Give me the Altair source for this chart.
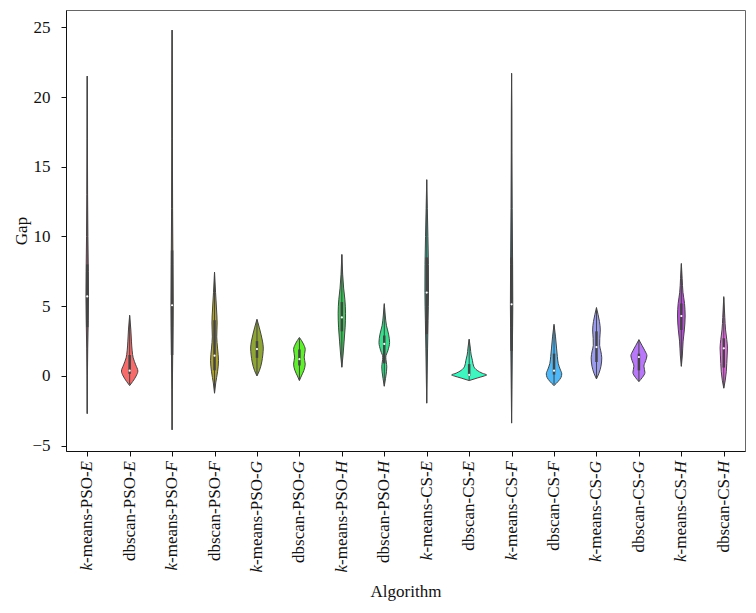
import altair as alt
import pandas as pd

algorithms = [
    "k-means-PSO-E", "dbscan-PSO-E", "k-means-PSO-F", "dbscan-PSO-F",
    "k-means-PSO-G", "dbscan-PSO-G", "k-means-PSO-H", "dbscan-PSO-H",
    "k-means-CS-E", "dbscan-CS-E", "k-means-CS-F", "dbscan-CS-F",
    "k-means-CS-G", "dbscan-CS-G", "k-means-CS-H", "dbscan-CS-H",
]

colors = [
    "#f2769a", "#f86b6b", "#d98c2c", "#ada12c",
    "#8ea534", "#5ef02a", "#3ec75a", "#35e08a",
    "#30c9a8", "#3ff5c0", "#3cc4e4", "#4fb8f8",
    "#9b9bf0", "#b978fa", "#b64fd6", "#e26ce0",
]

# violin outline knots: Gap values and half-widths (percent of a category band)
profile_y = [
    [-2.7, 0, 2, 4, 5.7, 7.5, 10, 13, 17, 21.5],
    [-0.69, -0.4, 0, 0.35, 0.8, 1.3, 1.8, 2.5, 3.3, 4.36],
    [-3.86, -1, 2, 5, 8, 12, 17, 21, 24.8],
    [-1.24, -0.5, 0.3, 1.1, 2, 2.8, 3.8, 4.8, 6, 7.45],
    [0, 0.4, 1.0, 1.5, 2.0, 2.5, 3.0, 3.5, 4.07],
    [-0.33, 0, 0.4, 0.85, 1.35, 1.9, 2.3, 2.76],
    [0.62, 1.5, 2.5, 3.5, 4.5, 5.5, 6.3, 7.3, 8.71],
    [-0.74, -0.2, 0.3, 0.65, 1.0, 1.35, 1.8, 2.4, 3.0, 3.6, 4.3, 5.19],
    [-1.95, 0, 2, 4, 6, 8, 10, 12, 14.07],
    [-0.33, -0.15, 0.0, 0.07, 0.2, 0.4, 0.7, 1.1, 1.5, 2.0, 2.64],
    [-3.38, -1, 2, 5, 8, 12, 16, 19, 21.7],
    [-0.69, -0.4, -0.1, 0.15, 0.5, 0.9, 1.4, 2.0, 2.8, 3.71],
    [-0.21, 0.2, 0.7, 1.3, 1.8, 2.2, 2.7, 3.3, 3.9, 4.4, 4.9],
    [-0.4, -0.1, 0.25, 0.7, 1.1, 1.45, 1.8, 2.2, 2.6],
    [0.69, 1.5, 2.5, 3.3, 4.3, 5.2, 6.0, 7.0, 8.07],
    [-0.88, -0.3, 0.3, 0.9, 1.5, 2.0, 2.6, 3.3, 4.2, 5.69],
]
profile_w = [
    [0, 0.5, 1.2, 2.4, 3.0, 2.6, 1.6, 0.9, 0.5, 0],
    [0, 7.1, 15.3, 19.3, 14.2, 8.3, 5.9, 4.2, 2.8, 0],
    [0, 0.6, 1.6, 2.6, 2.0, 1.2, 0.7, 0.6, 0],
    [0, 2.8, 7.1, 9.4, 7.1, 5.2, 6.1, 4.7, 2.4, 0],
    [0, 5.9, 11.3, 13.7, 14.9, 13.0, 9.4, 5.2, 0],
    [0, 4.7, 10.6, 13.7, 11.3, 13.7, 9.4, 0],
    [0, 2.8, 5.4, 7.8, 8.7, 7.1, 4.2, 1.9, 0],
    [0, 2.8, 5.2, 5.9, 4.7, 3.5, 8.3, 12.5, 10.1, 5.2, 2.4, 0],
    [0, 1.0, 2.0, 3.2, 4.2, 4.0, 2.8, 1.4, 0],
    [0, 18.9, 35.4, 41.3, 30.7, 18.9, 10.6, 7.8, 4.7, 2.8, 0],
    [0, 0.8, 1.8, 2.8, 2.4, 1.4, 0.8, 0.6, 0],
    [0, 9.4, 16.5, 18.2, 14.2, 9.9, 7.8, 5.9, 3.5, 0],
    [0, 5.9, 10.6, 12.5, 10.1, 7.5, 7.8, 9.0, 7.1, 3.8, 0],
    [0, 8.3, 14.2, 11.8, 16.0, 18.9, 14.2, 7.1, 0],
    [0, 2.4, 4.2, 7.1, 9.0, 7.5, 3.8, 1.9, 0],
    [0, 3.5, 5.9, 7.1, 8.0, 8.7, 7.1, 4.2, 2.4, 0],
]

# inner box statistics
whisker_lo = [-2.7, -0.6, -3.86, -1.2, 0.05, -0.3, 0.65, -0.7, -1.95, -0.3, -3.38, -0.6, -0.2, -0.4, 0.7, -0.85]
q1 = [3.5, 0.15, 1.5, 0.4, 1.3, 0.75, 3.2, 0.9, 3.0, 0.0, 1.8, 0.1, 1.0, 0.4, 3.3, 0.6]
median = [5.7, 0.38, 5.07, 1.45, 1.93, 1.2, 4.2, 2.3, 5.98, 0.07, 5.14, 0.38, 2.07, 1.36, 4.3, 1.98]
q3 = [8.0, 1.5, 9.0, 4.0, 2.5, 1.9, 5.3, 2.9, 8.5, 0.85, 8.5, 1.6, 3.2, 1.6, 5.2, 2.7]
whisker_hi = [21.5, 4.3, 24.8, 7.4, 4.0, 2.7, 8.7, 5.1, 14.07, 2.6, 21.7, 3.6, 4.9, 2.6, 8.0, 5.6]

y_ticks = [-5, 0, 5, 10, 15, 20, 25]

FONT = "Liberation Serif"
FS = 17
W, H = 679, 441

# Times-compatible advance widths (per 1000 em) used to join italic and roman label parts
roman_w = {"-": 333, "m": 778, "e": 444, "a": 444, "n": 500, "s": 389, "P": 556,
           "S": 556, "O": 722, "C": 667, "d": 500, "b": 500, "c": 444}
italic_w = {"k": 444, "E": 611, "F": 611, "G": 722, "H": 722}

rows = []
for i, name in enumerate(algorithms):
    for yv, wv in zip(profile_y[i], profile_w[i]):
        rows.append({"Algorithm": name, "idx": i, "Gap": yv, "w": wv})
violin_df = pd.DataFrame(rows)

box_df = pd.DataFrame({
    "Algorithm": algorithms, "idx": list(range(len(algorithms))),
    "lo": whisker_lo, "q1": q1, "med": median, "q3": q3, "hi": whisker_hi,
})

lab_rows = []
for i, name in enumerate(algorithms):
    prefix = "k" if name.startswith("k-") else ""
    rest = name[1:] if prefix else name
    middle, suffix = rest[:-1], rest[-1]
    suf_px = italic_w[suffix] * FS / 1000.0
    mid_px = sum(roman_w[c] for c in middle) * FS / 1000.0
    lab_rows.append({"idx": i, "prefix": prefix, "middle": middle, "suffix": suffix,
                     "dx_mid": round(-suf_px, 2), "dx_pre": round(-(suf_px + mid_px), 2)})
label_df = pd.DataFrame(lab_rows)

x_scale = alt.Scale(domain=[-0.5, 15.5], nice=False, zero=False)
y_scale = alt.Scale(domain=[-5.38, 26.24], nice=False, zero=False)
color_scale = alt.Scale(domain=algorithms, range=colors)

x_axis = alt.Axis(title="Algorithm", values=list(range(len(algorithms))), labels=False,
                  tickSize=5, titlePadding=127, grid=False,
                  titleFont=FONT, titleFontSize=FS, titleFontWeight="normal",
                  titleColor="#111111")
y_axis = alt.Axis(title="Gap", values=y_ticks, labelPadding=11, tickSize=5,
                  titlePadding=1, grid=False,
                  labelFont=FONT, labelFontSize=FS, titleFont=FONT, titleFontSize=FS,
                  titleFontWeight="normal", labelColor="#111111", titleColor="#111111")

violin = alt.Chart(violin_df).transform_calculate(
    lo="datum.idx - datum.w / 100", hi="datum.idx + datum.w / 100"
).mark_area(orient="horizontal", interpolate="monotone", stroke="#444444",
            strokeWidth=1, fillOpacity=1).encode(
    y=alt.Y("Gap:Q", scale=y_scale, axis=y_axis),
    x=alt.X("lo:Q", scale=x_scale, axis=x_axis),
    x2="hi:Q",
    color=alt.Color("Algorithm:N", scale=color_scale, legend=None),
    detail="Algorithm:N",
)

whisker = alt.Chart(box_df).mark_rule(color="#444444", strokeWidth=1).encode(
    x=alt.X("idx:Q", scale=x_scale, axis=x_axis),
    y=alt.Y("lo:Q", scale=y_scale, axis=y_axis),
    y2="hi:Q",
)
box = alt.Chart(box_df).mark_rule(color="#444444", strokeWidth=2.5).encode(
    x=alt.X("idx:Q", scale=x_scale, axis=x_axis),
    y=alt.Y("q1:Q", scale=y_scale, axis=y_axis),
    y2="q3:Q",
)
med = alt.Chart(box_df).mark_point(filled=True, color="white", size=5, opacity=1).encode(
    x=alt.X("idx:Q", scale=x_scale, axis=x_axis),
    y=alt.Y("med:Q", scale=y_scale, axis=y_axis),
)

text_kw = dict(angle=270, align="right", baseline="middle", font=FONT, fontSize=FS,
               color="#111111")
label_layers = [
    alt.Chart(label_df).mark_text(fontStyle="italic", **text_kw).encode(
        x=alt.X("idx:Q", scale=x_scale, axis=x_axis),
        y=alt.value(H + 10),
        text="suffix:N",
    )
]
for dxv in sorted(label_df["dx_mid"].unique()):
    label_layers.append(
        alt.Chart(label_df).transform_filter(alt.datum.dx_mid == float(dxv))
        .mark_text(dx=float(dxv), **text_kw).encode(
            x=alt.X("idx:Q", scale=x_scale, axis=x_axis),
            y=alt.value(H + 10),
            text="middle:N",
        )
    )
pre_df = label_df[label_df["prefix"] != ""]
for dxv in sorted(pre_df["dx_pre"].unique()):
    label_layers.append(
        alt.Chart(pre_df).transform_filter(alt.datum.dx_pre == float(dxv))
        .mark_text(dx=float(dxv), fontStyle="italic", **text_kw).encode(
            x=alt.X("idx:Q", scale=x_scale, axis=x_axis),
            y=alt.value(H + 10),
            text="prefix:N",
        )
    )

chart = alt.layer(violin, whisker, box, med, *label_layers).properties(
    width=W, height=H,
    padding={"left": 4, "top": 2, "right": 1, "bottom": 2},
).configure_view(stroke="#666666", strokeWidth=1).configure_axis(
    domainColor="#111111", tickColor="#111111", domainWidth=1, tickWidth=1,
)

chart.save("out.html", embed_options={"renderer": "svg", "actions": False})
